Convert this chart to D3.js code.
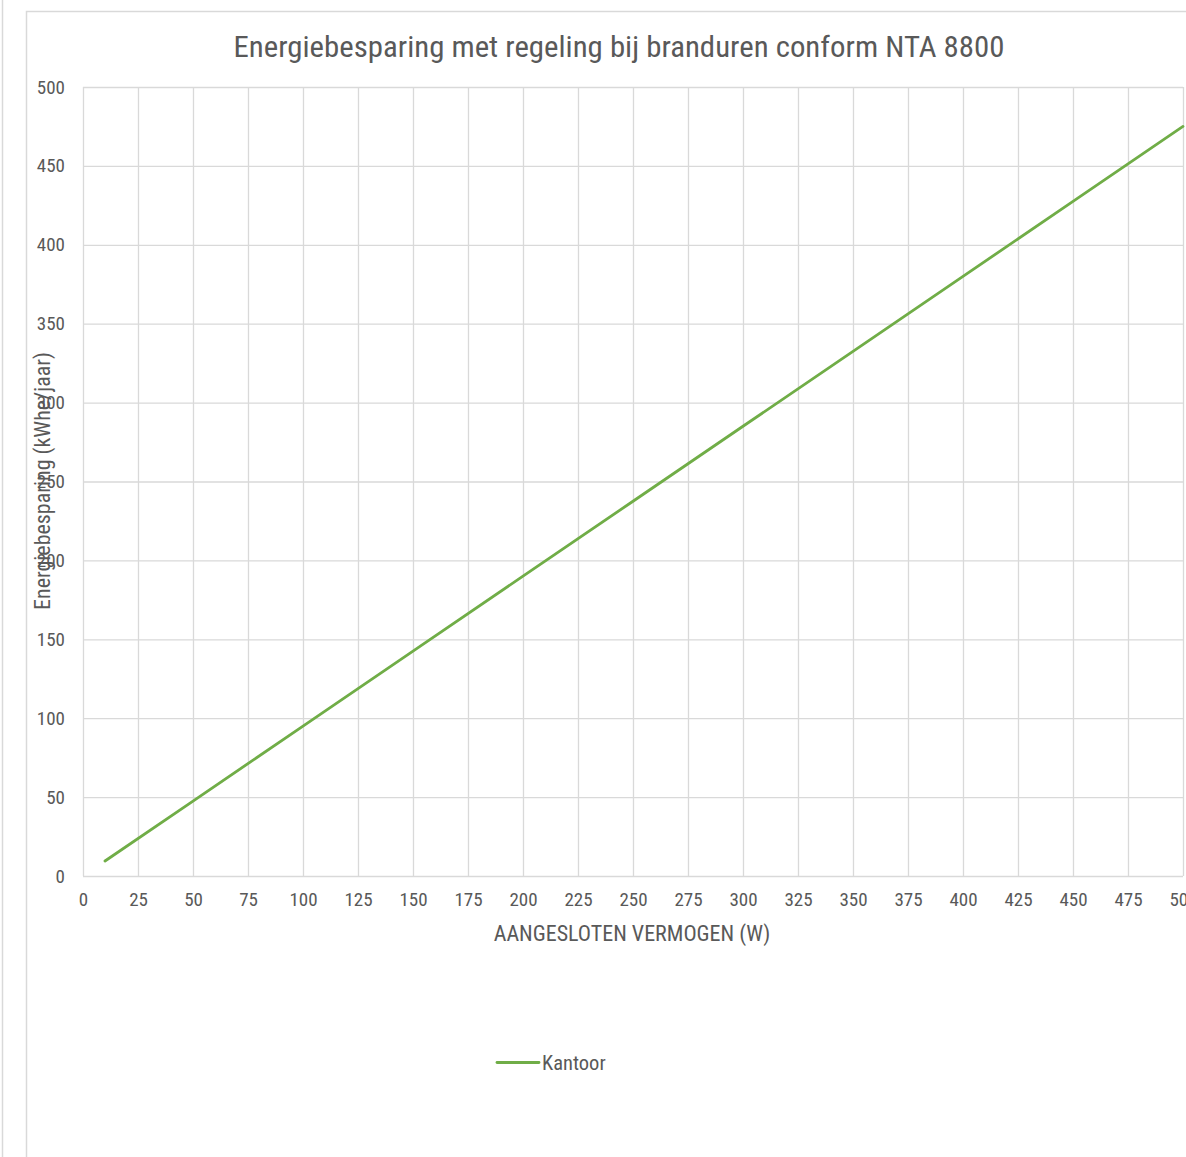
<!DOCTYPE html>
<html>
<head>
<meta charset="utf-8">
<script src="https://cdn.jsdelivr.net/npm/d3@7"></script>
<style>
  html, body { margin: 0; padding: 0; background: #fff; }
  svg { display: block; }
  text { font-family: "Liberation Sans Narrow", "Roboto Condensed", "Liberation Sans", sans-serif; fill: #595959; }
</style>
</head>
<body>
<script>
// Connected load (W) against yearly savings (kWh/jaar) for office buildings
const vermogen = [10, 50, 100, 150, 200, 250, 300, 350, 400, 450, 500];
const besparing = [9.5, 47.5, 95, 142.5, 190, 237.5, 285, 332.5, 380, 427.5, 475];
const xTicks = [0, 25, 50, 75, 100, 125, 150, 175, 200, 225, 250, 275, 300, 325, 350, 375, 400, 425, 450, 475, 500];
const yTicks = [0, 50, 100, 150, 200, 250, 300, 350, 400, 450, 500];
const seriesName = "Kantoor";
const title = "Energiebesparing met regeling bij branduren conform NTA 8800";
const xTitle = "AANGESLOTEN VERMOGEN (W)";
const yTitle = "Energiebesparing (kWhe/jaar)";

const W = 1186, H = 1157;
const plot = { left: 83, top: 87, right: 1183, bottom: 876 };

const svg = d3.select("body").append("svg").attr("width", W).attr("height", H);

// outer page edge and chart frame
svg.append("line").attr("x1", 2.5).attr("x2", 2.5).attr("y1", 0).attr("y2", H)
  .attr("stroke", "#d9d9d9").attr("stroke-width", 1.5);
svg.append("rect").attr("x", 26.5).attr("y", 11.5).attr("width", W + 10).attr("height", H + 10)
  .attr("fill", "none").attr("stroke", "#d9d9d9").attr("stroke-width", 1.5);

const x = d3.scaleLinear().domain([0, 500]).range([plot.left, plot.right]);
const y = d3.scaleLinear().domain([0, 500]).range([plot.bottom, plot.top]);

// gridlines and tick labels
const gx = svg.append("g").attr("transform", `translate(0,${plot.bottom})`)
  .call(d3.axisBottom(x).tickValues(xTicks).tickSize(-(plot.bottom - plot.top)).tickFormat(d => d).tickPadding(17));
gx.select(".domain").remove();
gx.selectAll(".tick line").attr("stroke", "#d9d9d9").attr("stroke-width", 1.3);
gx.selectAll(".tick text").attr("font-size", 19).style("fill", "#595959");

const gy = svg.append("g").attr("transform", `translate(${plot.left},0)`)
  .call(d3.axisLeft(y).tickValues(yTicks).tickSize(-(plot.right - plot.left)).tickFormat(d => d).tickPadding(18));
gy.select(".domain").remove();
gy.selectAll(".tick line").attr("stroke", "#d9d9d9").attr("stroke-width", 1.3);
gy.selectAll(".tick text").attr("font-size", 19).style("fill", "#595959");

// data line
const line = d3.line().x((d, i) => x(vermogen[i])).y(d => y(d));
svg.append("path").datum(besparing).attr("d", line)
  .attr("fill", "none").attr("stroke", "#70ad47").attr("stroke-width", 2.8).attr("stroke-linecap", "round");

// titles
svg.append("text").attr("x", 619).attr("y", 57).attr("text-anchor", "middle")
  .attr("font-size", 30).attr("textLength", 771).attr("lengthAdjust", "spacingAndGlyphs").text(title);
svg.append("text").attr("x", 632).attr("y", 941).attr("text-anchor", "middle")
  .attr("font-size", 22).text(xTitle);
svg.append("text").attr("transform", "translate(50,481) rotate(-90)").attr("text-anchor", "middle")
  .attr("font-size", 22).text(yTitle);

// legend
svg.append("line").attr("x1", 497).attr("x2", 539).attr("y1", 1062.5).attr("y2", 1062.5)
  .attr("stroke", "#70ad47").attr("stroke-width", 2.8).attr("stroke-linecap", "round");
svg.append("text").attr("x", 542).attr("y", 1069.5).attr("font-size", 20.5).text(seriesName);
</script>
</body>
</html>
